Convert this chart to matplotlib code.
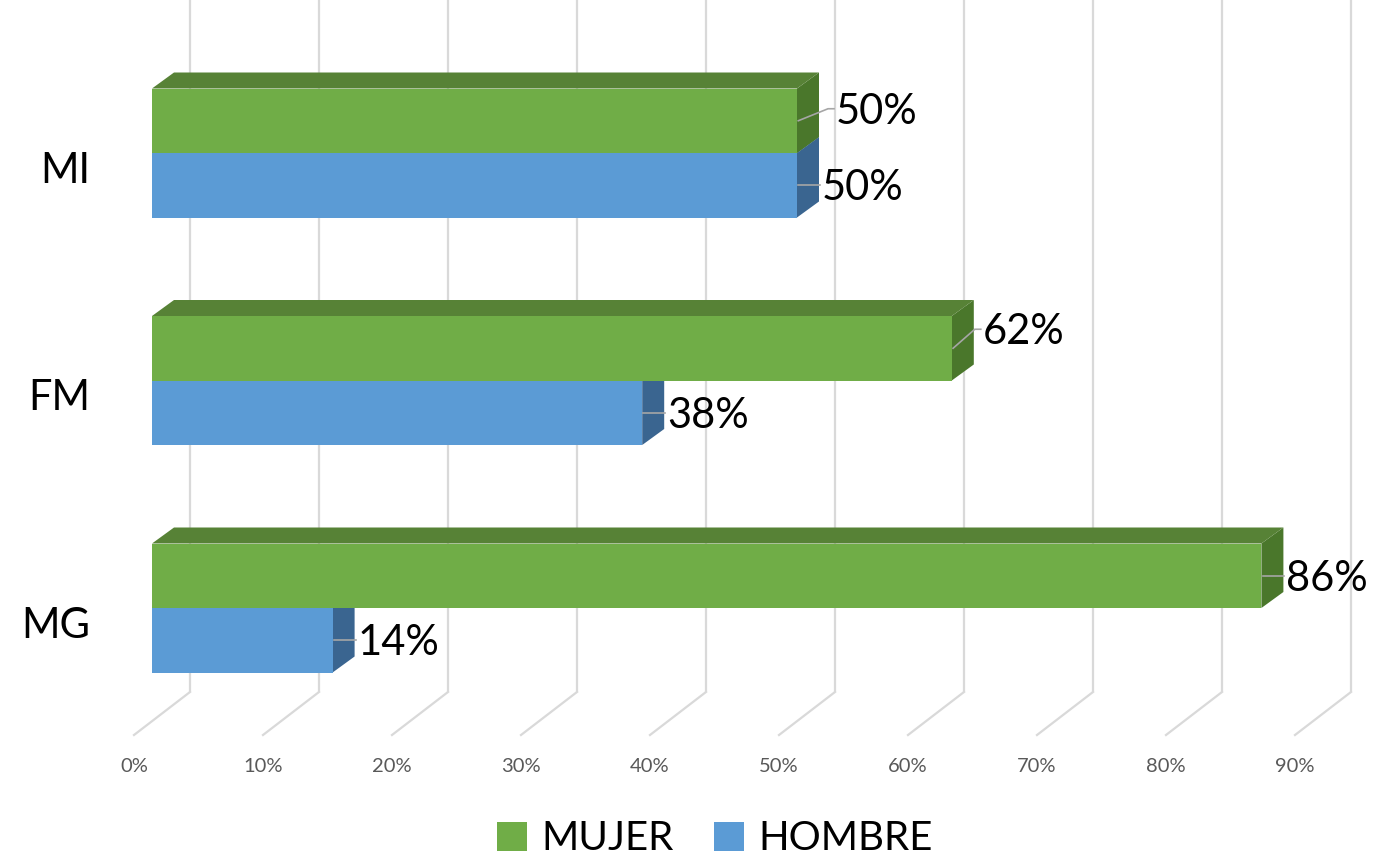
import matplotlib
matplotlib.use("Agg")
import matplotlib.pyplot as plt
from matplotlib.patches import Polygon, Patch

# ===== data =====
categories = ["MG", "FM", "MI"]          # bottom -> top
mujer = [86, 62, 50]
hombre = [14, 38, 50]
ticks = [0, 10, 20, 30, 40, 50, 60, 70, 80, 90]
tick_labels = [f"{t}%" for t in ticks]

# ===== colours =====
GREEN = "#70AD47"
GREEN_TOP = "#578236"
GREEN_SIDE = "#4A772B"
BLUE = "#5B9BD5"
BLUE_TOP = "#3F6E9A"
BLUE_SIDE = "#3A6590"
GRID = "#D9D9D9"

plt.rcParams['font.family'] = ['Lato', 'DejaVu Sans']

# pixel geometry of the reference, converted to data units
PX_X = 12.9      # px per 1 %
PX_Y = 227.5     # px per category step
X0_PX = 152      # where 0 % sits on the front plane
Y0_PX = 608      # centre of the first category

fig = plt.figure(figsize=(13.96, 8.61), dpi=100)
ax = fig.add_axes([0, 0, 1, 1])
ax.set_xlim(-X0_PX / PX_X, (1396 - X0_PX) / PX_X)
ax.set_ylim(-(861 - Y0_PX) / PX_Y, Y0_PX / PX_Y)
ax.axis("off")

bar_h = 64.5 / PX_Y
ddx, ddy = 22 / PX_X, 16 / PX_Y           # bar depth
wall_dx = 38 / PX_X                       # back wall offset
floor_front_dx = -18 / PX_X
floor_back_y = -(692 - Y0_PX) / PX_Y
floor_front_y = -(735 - Y0_PX) / PX_Y

# back wall gridlines + floor lines
for t in ticks:
    ax.plot([t + wall_dx, t + wall_dx], [floor_back_y, 5], color=GRID, lw=1.6,
            zorder=0, solid_capstyle="butt")
    ax.plot([t + floor_front_dx, t + wall_dx], [floor_front_y, floor_back_y],
            color=GRID, lw=1.6, zorder=0)
for t, lab in zip(ticks, tick_labels):
    ax.text(t + floor_front_dx, -(767 - Y0_PX) / PX_Y, lab, ha="center",
            va="center", fontsize=14.5, color="#595959")


def bar3d(y0, v, front, top, side, z):
    x1 = v
    y1 = y0 + bar_h
    ax.add_patch(Polygon([(x1, y0), (x1 + ddx, y0 + ddy), (x1 + ddx, y1 + ddy),
                          (x1, y1)], closed=True, fc=side, ec="none", zorder=z))
    ax.add_patch(Polygon([(0, y1), (ddx, y1 + ddy), (x1 + ddx, y1 + ddy), (x1, y1)],
                         closed=True, fc=top, ec="none", zorder=z))
    ax.add_patch(Polygon([(0, y0), (x1, y0), (x1, y1), (0, y1)], closed=True,
                         fc=front, ec="none", zorder=z + 0.1))


# label nudges (px) for the labels Excel moved to avoid collisions
nudge = {("MI", "m"): (14, -12), ("FM", "m"): (6, -19)}

for i, cat in enumerate(categories):
    yb = i - bar_h          # hombre below centre
    ym = i                  # mujer above centre
    z = 2 + i
    bar3d(yb, hombre[i], BLUE, BLUE_TOP, BLUE_SIDE, z)
    bar3d(ym, mujer[i], GREEN, GREEN_TOP, GREEN_SIDE, z + 0.5)

    for key, y0, v in (("h", yb, hombre[i]), ("m", ym, mujer[i])):
        nx, ny = nudge.get((cat, key), (0, 0))
        yc = y0 + bar_h / 2
        x_start = v + 0.1
        y_lab = yc - ny / PX_Y
        x_lab = v + ddx + (3 + nx) / PX_X
        ax.plot([x_start, x_lab - 8 / PX_X, x_lab - 2 / PX_X],
                [yc, y_lab, y_lab], color="#A6A6A6", lw=1.2, zorder=20)
        ax.text(x_lab, y_lab - 3 / PX_Y, f"{v}%", ha="left", va="center",
                fontsize=30, color="black", zorder=21)

    ax.text(-62 / PX_X, i - 18 / PX_Y, cat, ha="right", va="center",
            fontsize=30, color="black")

handles = [Patch(fc=GREEN, ec="none", label="MUJER"),
           Patch(fc=BLUE, ec="none", label="HOMBRE")]
ax.legend(handles=handles, loc="center", bbox_to_anchor=(715 / 1396, 1 - 839 / 861),
          ncol=2, frameon=False, fontsize=29, handlelength=0.75, handleheight=0.75,
          handletextpad=0.35, columnspacing=1.0)

fig.savefig("out.png", dpi=100)
